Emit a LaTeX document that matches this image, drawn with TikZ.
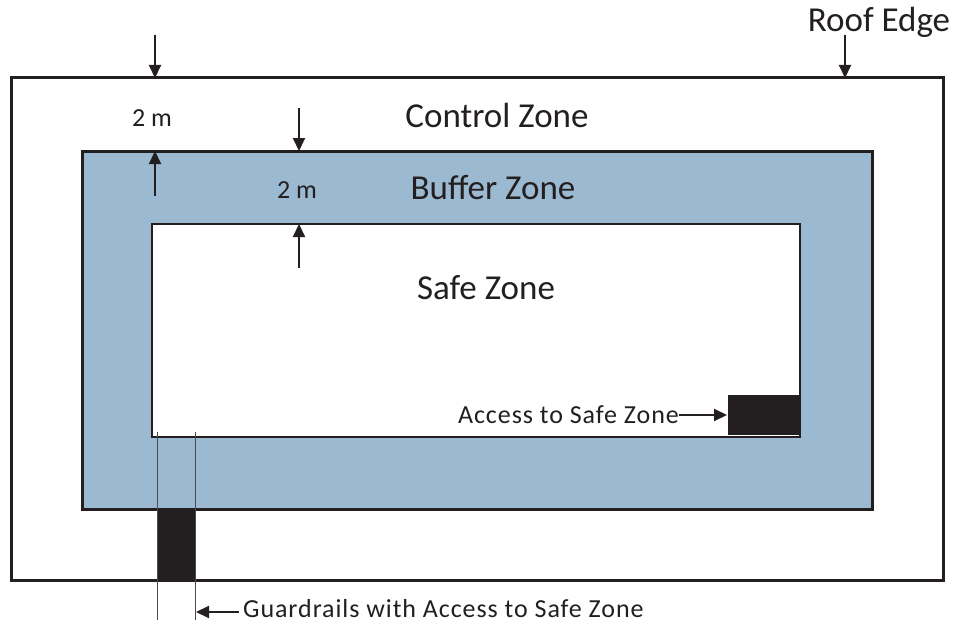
\documentclass[tikz,border=0pt]{standalone}
\usepackage{fontspec}
\setmainfont{Carlito}
\newfontfamily\spacedfont[LetterSpace=3.6]{Carlito}
\usetikzlibrary{arrows.meta}
\definecolor{zoneblue}{HTML}{9BB9D0}
\definecolor{ink}{HTML}{231F20}
\tikzset{
  big/.style={font=\fontsize{35}{40}\selectfont, text=ink, inner sep=0pt},
  small/.style={font=\fontsize{26}{31}\selectfont, text=ink, inner sep=0pt},
  spaced/.style={font=\spacedfont\fontsize{26}{31}\selectfont, text=ink, inner sep=0pt},
  dimarrow/.style={draw=ink, line width=2pt, -{Triangle[length=13pt,width=12pt]}},
  thinline/.style={draw=ink!80, line width=0.9pt},
}
\begin{document}
\begin{tikzpicture}[x=1pt,y=-1pt]
\useasboundingbox (0,0) rectangle (956,626);
% outer roof edge
\draw[ink, line width=3pt] (11,78) rectangle (943,580);
% buffer zone
\draw[ink, line width=3pt, fill=zoneblue] (82,151) rectangle (872,509);
% safe zone
\draw[ink, line width=2pt, fill=white] (152,224) rectangle (800,437);
% access boxes
\fill[ink] (728,395) rectangle (800,435);
\fill[ink] (157,509) rectangle (195,580);
% guardrail lines
\coordinate (g1t) at (157,432); \coordinate (g1b) at (157,620);
\coordinate (g2t) at (195,432); \coordinate (g2b) at (195,620);
\draw[thinline] (g1t) -- (g1b);
\draw[thinline] (g2t) -- (g2b);
% labels
\node[big] (roof) at (879,22) {Roof Edge};
\node[big] (control) at (497,115) {Control Zone};
\node[big] (buffer) at (493,188) {Buffer Zone};
\node[big] (safe) at (486,288) {Safe Zone};
\node[small] (dimA) at (152,118) {2 m};
\node[small] (dimB) at (297,190) {2 m};
\node[spaced, anchor=east] (access) at (679,415) {Access to Safe Zone};
\node[spaced, anchor=base west] (guard) at (243,617) {Guardrails with Access to Safe Zone};
% arrows
\coordinate (a1s) at (155,35); \coordinate (a1e) at (155,78);
\coordinate (a2s) at (155,196); \coordinate (a2e) at (155,151);
\coordinate (a3s) at (299,108); \coordinate (a3e) at (299,151);
\coordinate (a4s) at (299,268); \coordinate (a4e) at (299,224);
\coordinate (a5s) at (845,35); \coordinate (a5e) at (845,78);
\coordinate (a6e) at (727,415);
\coordinate (a7s) at (239,612); \coordinate (a7e) at (196,612);
\draw[dimarrow] (a1s) -- (a1e);
\draw[dimarrow] (a2s) -- (a2e);
\draw[dimarrow] (a3s) -- (a3e);
\draw[dimarrow] (a4s) -- (a4e);
\draw[dimarrow] (a5s) -- (a5e);
\draw[dimarrow] (access.east) -- (a6e);
\draw[dimarrow] (a7s) -- (a7e);
\end{tikzpicture}
\end{document}
